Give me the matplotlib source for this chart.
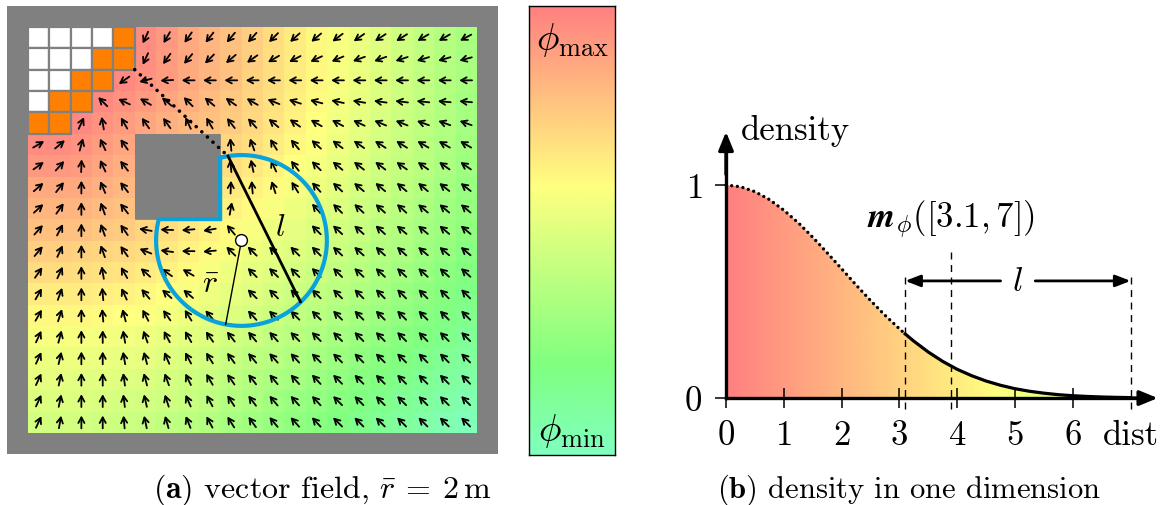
import matplotlib
matplotlib.use("Agg")
import matplotlib.pyplot as plt
import numpy as np
from matplotlib.colors import LinearSegmentedColormap
from matplotlib.patches import Rectangle

plt.rcParams["mathtext.fontset"] = "cm"
plt.rcParams["font.family"] = ["cmr10", "DejaVu Serif"]
plt.rcParams["axes.formatter.use_mathtext"] = True

# --- panel (a): 21 x 19 grid ------------------------------------------------
# w = free cell, o = frontier cell, # = obstacle, . = field cell
cell_types = [
    "wwwwo................",
    "wwwoo................",
    "wwoo.................",
    "woo..................",
    "oo...................",
    ".....####............",
    ".....####............",
    ".....####............",
    ".....####............",
    ".....................",
    ".....................",
    ".....................",
    ".....................",
    ".....................",
    ".....................",
    ".....................",
    ".....................",
    ".....................",
    ".....................",
]

# phi per cell in percent of phi_max
phi = [
    [None] * 5 + [96, 92, 87, 83, 79, 75, 71, 66, 62, 58, 54, 50, 45, 41, 37, 33],
    [None] * 5 + [95, 91, 87, 83, 79, 75, 70, 66, 62, 58, 54, 50, 45, 41, 37, 33],
    [None] * 4 + [97, 94, 91, 87, 83, 79, 74, 70, 66, 62, 58, 54, 49, 45, 41, 37, 33],
    [None] * 3 + [97, 94, 91, 88, 85, 81, 77, 73, 69, 65, 61, 57, 53, 49, 45, 41, 36, 32],
    [None] * 2 + [97, 94, 91, 88, 85, 82, 79, 76, 72, 68, 64, 60, 56, 52, 48, 44, 40, 36, 32],
    [96, 96, 94, 91, 88] + [None] * 4 + [73, 70, 66, 62, 59, 55, 51, 47, 43, 39, 35, 31],
    [92, 92, 91, 88, 85] + [None] * 4 + [70, 67, 64, 60, 57, 53, 49, 45, 42, 38, 34, 30],
    [87, 87, 87, 85, 82] + [None] * 4 + [67, 64, 61, 58, 55, 51, 47, 44, 40, 36, 32, 28],
    [83, 83, 83, 81, 79] + [None] * 4 + [64, 61, 58, 55, 52, 49, 45, 42, 38, 34, 30, 27],
    [79, 79, 79, 77, 76, 73, 70, 67, 64, 61, 58, 55, 52, 49, 46, 43, 39, 36, 32, 29, 25],
    [75, 75, 74, 73, 72, 70, 67, 64, 61, 58, 55, 52, 50, 47, 44, 40, 37, 34, 30, 27, 23],
    [71, 71, 70, 69, 68, 66, 64, 61, 58, 55, 52, 50, 47, 44, 41, 38, 34, 31, 28, 24, 21],
    [66, 66, 66, 65, 64, 62, 60, 58, 55, 52, 50, 47, 44, 41, 38, 35, 32, 28, 25, 22, 18],
    [62, 62, 62, 61, 60, 59, 57, 55, 52, 49, 47, 44, 41, 38, 35, 32, 29, 26, 23, 19, 16],
    [58, 58, 58, 57, 56, 55, 53, 51, 49, 46, 44, 41, 38, 35, 32, 29, 26, 23, 20, 17, 13],
    [55, 55, 55, 54, 53, 52, 50, 48, 46, 43, 40, 38, 35, 32, 29, 26, 23, 20, 17, 14, 11],
    [52, 52, 51, 51, 50, 49, 47, 45, 43, 40, 37, 34, 32, 29, 26, 23, 20, 17, 14, 11, 8],
    [49, 49, 49, 48, 47, 46, 45, 43, 40, 37, 34, 31, 28, 26, 23, 20, 17, 14, 11, 8, 5],
    [46, 46, 46, 45, 44, 43, 41, 39, 36, 33, 30, 28, 25, 23, 20, 17, 14, 11, 8, 5, 2],
]

# arrow direction per cell, degrees (0 = right, 90 = up)
angles = [
    [None] * 5 + [245, 240, 235, 232, 230, 228, 225, 222, 220, 217, 215, 213, 212, 210, 210, 208],
    [None] * 5 + [245, 235, 230, 225, 220, 215, 210, 207, 205, 203, 200, 200, 198, 197, 196, 195],
    [None] * 4 + [215, 195, 183] + [180] * 14,
    [None] * 3 + [135, 155, 150, 140, 135, 140, 145, 150, 158, 162, 165, 168, 170, 172, 173, 174, 175, 175],
    [None] * 2 + [65, 100, 120, 125, 125, 115, 120, 128, 132, 140, 145, 150, 152, 155, 157, 158, 160, 160, 160],
    [30, 40, 75, 115, 125] + [None] * 4 + [95, 110, 122, 130, 138, 143, 145, 147, 148, 150, 150, 150],
    [35, 48, 88, 115, 128] + [None] * 4 + [95, 102, 115, 128, 135, 140, 142, 143, 145, 145, 145, 145],
    [40, 52, 90, 113, 128] + [None] * 4 + [88, 95, 108, 122, 132, 137, 140, 140, 140, 140, 142, 142],
    [42, 55, 90, 110, 128] + [None] * 4 + [80, None, None, None, 132, 135, 137, 138, 138, 140, 140, 140],
    [48, 62, 90, 110, 125, 170, 178, 185, 190, 130, None, None, None, 135, 137, 138, 138, 140, 140, 140, 140],
    [50, 65, 90, 110, 125, 158, 172, 180, 185, 135, 135, 135, 135, 135, 137, 138, 138, 138, 140, 140, 140],
    [55, 65, 90, 100, 120, 138, 145, 150, None, None, 135, 135, 135, 135, 135, 137, 137, 137, 138, 138, 138],
    [60, 70, 90, 95, 115, 130, 138, 140, None, None] + [135] * 11,
    [60, 72, 90, 95, 105, 118, 125, 122, 130, None] + [132] + [135] * 10,
    [65, 75, 90, 90, 100, 110, 118, 120, 125, 128, 130, 132] + [135] * 9,
    [65, 77, 90, 90, 100, 105, 113, 118, 122, 126, 130, 132, 133] + [135] * 8,
    [65, 78, 90, 90, 98, 105, 110, 116, 120, 125, 128, 130, 132, 133] + [135] * 7,
    [65, 78, 90, 90, 97, 103, 108, 114, 118, 123, 127, 130, 132, 133] + [135] * 7,
    [65, 80, 90, 90, 95, 102, 106, 112, 118, 122, 126, 130, 132, 133] + [135] * 7,
]

r_bar = 4.0            # radius in cells (2 m)
r_center = (10.0, 10.0)
obstacle_corner = (9.0, 9.0)
ray_corner = (5.0, 2.0)
ray_in = (9.37, 6.05)
ray_out = (12.76, 12.87)
r_end = (9.26, 13.93)

# --- panel (b): density along the ray ---------------------------------------
dist = [0, 0.25, 0.5, 0.75, 1.0, 1.25, 1.5, 1.75, 2.0, 2.25, 2.5, 2.75, 3.0, 3.1,
        3.25, 3.5, 3.75, 4.0, 4.25, 4.5, 4.75, 5.0, 5.25, 5.5, 5.75, 6.0, 6.25,
        6.5, 6.75, 7.0]
density = [1.0, 0.992, 0.969, 0.932, 0.882, 0.823, 0.755, 0.682, 0.607, 0.531,
           0.458, 0.389, 0.325, 0.301, 0.267, 0.216, 0.172, 0.135, 0.105, 0.080,
           0.060, 0.044, 0.032, 0.023, 0.016, 0.011, 0.0076, 0.0051, 0.0034, 0.0022]
l_start, l_end = 3.1, 7.0
l_len = 3.9

cmap = LinearSegmentedColormap.from_list(
    "phi", [(0.0, "#80ffc0"), (0.2, "#80ff80"), (0.6, "#ffff80"), (1.0, "#ff8080")])
GRAY = "#808080"
BLUE = "#0aa2da"

W, H = 1166, 506
fig = plt.figure(figsize=(W / 100, H / 100), dpi=100)

# panel (a)
ax = fig.add_axes([6.65 / W, 1 - 455 / H, 491 / W, 448.4 / H])
ax.set_facecolor(GRAY)
phi_arr = np.array([[np.nan if v is None else v for v in row] for row in phi], float) / 100
ax.imshow(np.ma.masked_invalid(phi_arr), cmap=cmap, vmin=0, vmax=1,
          extent=(0, 21, 19, 0), interpolation="nearest", aspect="auto", zorder=1)
for r, row in enumerate(cell_types):
    for c, ch in enumerate(row):
        if ch == "w":
            ax.add_patch(Rectangle((c, r), 1, 1, fc="white", ec=GRAY, lw=1.6, zorder=2))
        elif ch == "o":
            ax.add_patch(Rectangle((c, r), 1, 1, fc="#ff8000", ec=GRAY, lw=1.6, zorder=2))
        elif ch == "#":
            ax.add_patch(Rectangle((c, r), 1, 1, fc=GRAY, ec=GRAY, lw=0.5, zorder=2))

for r, row in enumerate(angles):
    for c, a in enumerate(row):
        if a is None:
            continue
        dx = 0.3 * np.cos(np.radians(a))
        dy = -0.3 * np.sin(np.radians(a))
        cx, cy = c + 0.5, r + 0.5
        ax.annotate("", xy=(cx + dx, cy + dy), xytext=(cx - dx, cy - dy),
                    arrowprops=dict(arrowstyle="->,head_length=0.4,head_width=0.22",
                                    lw=1.3, color="k", shrinkA=0, shrinkB=0), zorder=3)

# visible part of the circle (circle minus obstacle)
cx0, cy0 = r_center
h = r_center[0] - obstacle_corner[0]
t_a = np.pi + np.arcsin(h / r_bar)
t_b = 1.5 * np.pi - np.arcsin(h / r_bar)
tt = np.linspace(t_b, t_a + 2 * np.pi, 300)
xs = list(cx0 + r_bar * np.cos(tt)) + [obstacle_corner[0], obstacle_corner[0], cx0 + r_bar * np.cos(t_b)]
ys = list(cy0 + r_bar * np.sin(tt)) + [obstacle_corner[1], obstacle_corner[1], cy0 + r_bar * np.sin(t_b)]
ax.plot(xs, ys, color=BLUE, lw=3.0, zorder=4, solid_joinstyle="miter")

ax.plot([ray_corner[0], ray_in[0]], [ray_corner[1], ray_in[1]], color="k", lw=2.6,
        ls=(0, (0.01, 2.1)), dash_capstyle="round", zorder=5)
ax.plot([ray_in[0], ray_out[0]], [ray_in[1], ray_out[1]], color="k", lw=2.0, zorder=5)
ax.plot([cx0, r_end[0]], [cy0, r_end[1]], color="k", lw=1.0, zorder=5)
ax.plot([cx0], [cy0], "o", ms=8.5, mfc="white", mec="k", mew=1.0, zorder=6)
ax.text(11.8, 9.4, r"$l$", fontsize=23, ha="center", va="center", zorder=6)
ax.text(8.55, 12.05, r"$\bar{r}$", fontsize=23, ha="center", va="center", zorder=6)
ax.set_xlim(-1, 22)
ax.set_ylim(20, -1)
ax.set_xticks([])
ax.set_yticks([])
for s in ax.spines.values():
    s.set_visible(False)

# colour bar
cax = fig.add_axes([529 / W, 1 - 456 / H, 86 / W, 449 / H])
cax.imshow(np.linspace(1, 0, 256)[:, None], cmap=cmap, vmin=0, vmax=1,
           extent=(0, 1, 0, 1), aspect="auto", interpolation="bilinear")
cax.set_xticks([])
cax.set_yticks([])
for s in cax.spines.values():
    s.set_linewidth(1.0)
cax.text(0.5, 0.927, r"$\phi_{\max}$", fontsize=27, ha="center", va="center",
         transform=cax.transAxes)
cax.text(0.5, 0.055, r"$\phi_{\min}$", fontsize=27, ha="center", va="center",
         transform=cax.transAxes)

fig.text(322 / W, 1 - 498 / H,
         r"$\mathbf{(a)}$ vector field, $\bar{r}\:=\:2\,\mathrm{m}$",
         fontsize=23, ha="center", va="baseline")

# panel (b)
bx = fig.add_axes([650 / W, 1 - 460 / H, 516 / W, 350 / H])
bx.patch.set_alpha(0)
grad = np.linspace(1.0, 0.4, 256)[None, :]
im = bx.imshow(grad, cmap=cmap, vmin=0, vmax=1, extent=(0, 7, 0, 1),
               aspect="auto", interpolation="bilinear", zorder=1)
poly = bx.fill_between(dist, density, 0, facecolor="none", edgecolor="none")
im.set_clip_path(poly.get_paths()[0], bx.transData)

d_arr = np.array(dist)
y_arr = np.array(density)
m_dot = d_arr <= l_start
m_solid = d_arr >= l_start
bx.plot(d_arr[m_dot], y_arr[m_dot], color="k", lw=2.4, ls=(0, (0.01, 1.7)),
        dash_capstyle="round", zorder=3)
bx.plot(d_arr[m_solid], y_arr[m_solid], color="k", lw=2.3, zorder=3)

for xv, top in [(l_start, 0.58), (l_len, 0.69), (l_end, 0.58)]:
    bx.plot([xv, xv], [-0.05, top], color="k", lw=1.0, ls=(0, (5, 4)), zorder=2)

arrow_kw = dict(arrowstyle="-|>,head_length=0.9,head_width=0.35", lw=2.0, color="k",
                shrinkA=0, shrinkB=0)
bx.annotate("", xy=(l_start, 0.55), xytext=(4.75, 0.55), arrowprops=arrow_kw)
bx.annotate("", xy=(l_end, 0.55), xytext=(5.35, 0.55), arrowprops=arrow_kw)
bx.text(5.05, 0.55, r"$l$", fontsize=25, ha="center", va="center")
bx.text(3.9, 0.84, r"$\mathbfit{m}_{\phi}([3.1, 7])$", fontsize=25, ha="center", va="center")

bx.spines["left"].set_position(("data", 0))
bx.spines["bottom"].set_position(("data", 0))
bx.spines["top"].set_visible(False)
bx.spines["right"].set_visible(False)
bx.spines["left"].set_bounds(0, 1.15)
bx.spines["bottom"].set_bounds(0, 7.3)
for s in ("left", "bottom"):
    bx.spines[s].set_linewidth(2.4)
    bx.spines[s].set_zorder(4)
ax_kw = dict(arrowstyle="-|>,head_length=1.1,head_width=0.45", lw=2.4, color="k",
             shrinkA=0, shrinkB=0)
bx.annotate("", xy=(7.47, 0), xytext=(7.0, 0), arrowprops=ax_kw, annotation_clip=False)
bx.annotate("", xy=(0, 1.25), xytext=(0, 1.05), arrowprops=ax_kw, annotation_clip=False)

bx.set_xticks(range(7))
bx.set_yticks([0, 1])
bx.tick_params(axis="x", direction="inout", length=14, width=1.1, labelsize=25, pad=8)
bx.tick_params(axis="y", direction="out", length=8, width=1.1, labelsize=25, pad=9)
bx.text(7.0, -0.215, "dist", fontsize=25, ha="center", va="baseline")
bx.text(0.26, 1.26, "density", fontsize=25, ha="left", va="center")
bx.set_xlim(-1.315, 7.612)
bx.set_ylim(-0.286, 1.357)

fig.text(909 / W, 1 - 498 / H, r"$\mathbf{(b)}$ density in one dimension",
         fontsize=22, ha="center", va="baseline")

fig.savefig("out.png", dpi=100)
